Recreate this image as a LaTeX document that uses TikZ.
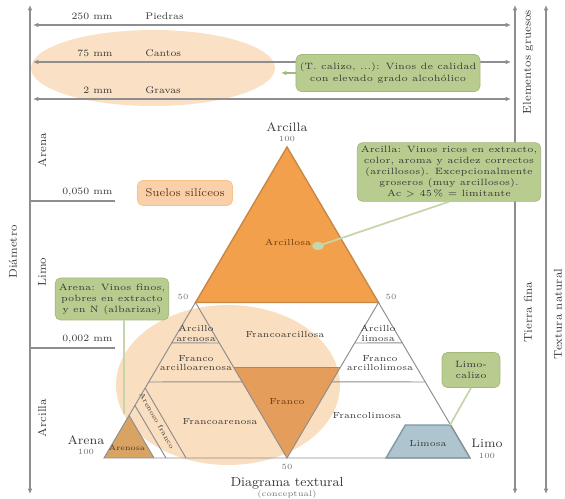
\documentclass[tikz,border=0pt]{standalone}
\usepackage{tikz}
\usetikzlibrary{arrows.meta,calc,positioning}
\definecolor{gris}{HTML}{8E8E8E}
\definecolor{arcillac}{HTML}{F2A04B}
\definecolor{arcillab}{HTML}{C98744}
\definecolor{francoc}{HTML}{E39752}
\definecolor{arenac}{HTML}{D9A363}
\definecolor{limoc}{HTML}{AEC5CF}
\definecolor{limob}{HTML}{7F98A5}
\definecolor{beige}{HTML}{F9D8B5}
\definecolor{naranjac}{HTML}{F9D0AA}
\definecolor{verde}{HTML}{B9CC90}
\definecolor{verdeb}{HTML}{A3B97A}
\definecolor{verdel}{HTML}{C6D5AA}
\definecolor{texto}{HTML}{3A3A3A}
\definecolor{marron}{HTML}{6B3A12}

\begin{document}
\begin{tikzpicture}[x=0.02cm, y=-0.02cm,
  linea/.style={draw=gris, line width=0.55pt},
  flecha/.style={draw=gris, line width=0.7pt, {Latex[length=3pt,width=2.6pt]}-{Latex[length=3pt,width=2.6pt]}},
  txt/.style={font=\fontsize{5.5}{6.5}\selectfont, text=texto, inner sep=0pt},
  eje/.style={font=\fontsize{6.5}{7}\selectfont, text=texto, rotate=90, inner sep=0pt},
  zona/.style={font=\fontsize{5}{5.6}\selectfont, text=texto, align=center, inner sep=0pt},
  vertice/.style={font=\fontsize{7}{7}\selectfont, text=texto, inner sep=0pt},
  cifra/.style={font=\fontsize{4.5}{5}\selectfont, text=gris!80!black, inner sep=0pt},
  nota/.style={draw=verdeb, fill=verde, rounded corners=3pt, align=center, inner sep=2pt,
     text=texto, font=\fontsize{5.2}{6.3}\selectfont},
  enlace/.style={draw=verdel, line width=1pt}]
\useasboundingbox (0,0) rectangle (565,499);

% elipse de los elementos gruesos
\fill[beige!80] (153,68) ellipse [x radius=122, y radius=38];

% ejes laterales
\foreach \xx/\nm in {30/izq, 515/med, 546/der}{
  \coordinate (\nm-a) at (\xx,5);
  \coordinate (\nm-b) at (\xx,494);
  \draw[flecha] (\nm-a) -- (\nm-b);
}

% limites de los elementos gruesos
\foreach \i/\yy/\mm/\nom in {1/25/250 mm/Piedras, 2/62/75 mm/Cantos, 3/99/2 mm/Gravas}{
  \coordinate (g\i-a) at (33,\yy);
  \coordinate (g\i-b) at (511,\yy);
  \draw[flecha] (g\i-a) -- (g\i-b);
  \node[txt, anchor=base east] (mm\i) at (113,\yy-5) {\mm};
  \node[txt, anchor=base west] (nom\i) at (145,\yy-5) {\nom};
}

% limites de la tierra fina
\foreach \i/\yy/\mm in {1/201/{0,050 mm}, 2/348/{0,002 mm}}{
  \coordinate (t\i-a) at (30,\yy);
  \coordinate (t\i-b) at (115,\yy);
  \draw[linea, line width=0.8pt] (t\i-a) -- (t\i-b);
  \node[txt, anchor=base east] (tm\i) at (113,\yy-6) {\mm};
}

\node[eje] (eArena) at (42,150) {Arena};
\node[eje] (eLimo) at (42,272) {Limo};
\node[eje] (eArcilla) at (42,418) {Arcilla};
\node[eje] (eDiam) at (13,252) {Diámetro};
\node[eje] (eGruesos) at (528,62) {Elementos gruesos};
\node[eje] (eFina) at (528,312) {Tierra fina};
\node[eje] (eNatural) at (558,314) {Textura natural};

% diagrama textural
\coordinate (vArc) at (287,147);
\coordinate (vAre) at (104,458);
\coordinate (vLim) at (470,458);
\coordinate (mAA) at ($(vArc)!0.5!(vAre)$);
\coordinate (mAL) at ($(vArc)!0.5!(vLim)$);
\coordinate (mB) at ($(vAre)!0.5!(vLim)$);
\coordinate (fI) at ($(mAA)!0.421!(mB)$);
\coordinate (fD) at ($(mAL)!0.421!(mB)$);
\coordinate (aT) at ($(vAre)!0.137!(vArc)$);
\coordinate (aB) at (154,458);
\coordinate (lB) at (386,458);
\coordinate (lTI) at (405.4,425);
\coordinate (lTD) at ($(vLim)!0.106!(vArc)$);

% suelos siliceos
\fill[beige!85] (228,385) ellipse [x radius=112, y radius=80];

\filldraw[fill=arcillac, draw=arcillab, line width=0.8pt] (vArc) -- (mAA) -- (mAL) -- cycle;
\fill[francoc, fill opacity=0.9] (fI) -- (fD) -- (mB) -- cycle;
\fill[arenac] (vAre) -- (aT) -- (aB) -- cycle;
\filldraw[fill=limoc, draw=limob, line width=0.8pt] (lB) -- (lTI) -- (lTD) -- (vLim) -- cycle;

\draw[linea] (mAA) -- (vAre) -- (vLim) -- (mAL);
\draw[linea] (mAA) -- (mB) -- (mAL);
\draw[linea] (fI) -- (fD);
\draw[linea] (aT) -- (aB);
\foreach \t/\s/\k in {0.630/0.2605/1, 0.7556/0.511/2}{
  \draw[linea] ($(vArc)!\t!(vAre)$) -- ($(mAA)!\s!(mB)$);
  \draw[linea] ($(vArc)!\t!(vLim)$) -- ($(mAL)!\s!(mB)$);
}
\coordinate (sA1) at ($(vAre)!0.169!(vArc)$);
\coordinate (sA2) at (166,458);
\coordinate (sB1) at ($(vAre)!0.225!(vArc)$);
\coordinate (sB2) at (186,458);
\draw[linea] (sA1) -- (sA2);
\draw[linea] (sB1) -- (sB2);

% texturas
\node[zona, text=marron] (zArc) at (288,242) {Arcillosa};
\node[zona] (zArcAre) at (196,333) {Arcillo\\arenosa};
\node[zona] (zFArcAre) at (196,363) {Franco\\arcilloarenosa};
\node[zona] (zFArc) at (285,335) {Francoarcillosa};
\node[zona, text=marron] (zFranco) at (287,402) {Franco};
\node[zona] (zFAre) at (220,422) {Francoarenosa};
\node[zona, font=\fontsize{4}{5}\selectfont, rotate=-60] (zAreF) at (157,421) {Arenoso franco};
\node[zona, font=\fontsize{4.3}{5}\selectfont] (zAre) at (127,448) {Arenosa};
\node[zona] (zArcLim) at (378,333) {Arcillo\\limosa};
\node[zona] (zFArcLim) at (380,363) {Franco\\arcillolimosa};
\node[zona] (zFLim) at (367,416) {Francolimosa};
\node[zona] (zLim) at (428,444) {Limosa};

% vertices
\node[vertice] (nArc) at (287,127) {Arcilla};
\node[cifra] (cArc) at (287,139) {100};
\node[vertice] (nAre) at (86,440) {Arena};
\node[cifra] (cAre) at (86,452) {100};
\node[vertice] (nLim) at (487,443) {Limo};
\node[cifra] (cLim) at (487,456) {100};
\node[cifra] (c50i) at (183,297) {50};
\node[cifra] (c50d) at (391,297) {50};
\node[cifra] (c50b) at (287,467) {50};
\node[vertice, font=\fontsize{7.5}{8}\selectfont] (titulo) at (287,483) {Diagrama textural};
\node[cifra] (subtit) at (287,495) {(conceptual)};

% leyenda y notas
\node[draw=naranjac!80!orange, fill=naranjac, rounded corners=3pt, minimum width=1.9cm,
  minimum height=0.5cm, font=\fontsize{6.5}{7}\selectfont, text=marron] (silic) at (185,193) {Suelos silíceos};
\node[nota, minimum width=2.86cm, minimum height=0.74cm] (calizo) at (388,73)
  {(T. calizo, ...): Vinos de calidad\\con elevado grado alcohólico};
\node[nota, minimum width=3cm, minimum height=1.1cm] (notaArc) at (449,172)
  {Arcilla: Vinos ricos en extracto,\\color, aroma y acidez correctos\\(arcillosos). Excepcionalmente\\groseros (muy arcillosos).\\Ac $>$ 45\,\% = limitante};
\node[nota, minimum width=1.9cm, minimum height=0.84cm] (notaAre) at (112,299)
  {Arena: Vinos finos,\\pobres en extracto\\y en N (albarizas)};
\node[nota, minimum width=1.16cm, minimum height=0.7cm] (notaLim) at (471,370) {Limo-\\calizo};

\coordinate (pSup) at (281,73);
\coordinate (pArc) at (318,246);
\coordinate (pAre) at (124,414);
\coordinate (pLim) at (450,425);
\draw[enlace, draw=verdeb, line width=0.7pt, -{Latex[length=3pt,width=2.6pt]}] (calizo.west) -- (pSup);
\draw[enlace] (notaArc.south) -- (pArc);
\fill[verdel] (pArc) ellipse [x radius=6, y radius=4];
\draw[enlace] (pAre |- notaAre.south) -- (pAre);
\draw[enlace] (notaLim.south) -- (pLim);
\end{tikzpicture}
\end{document}
